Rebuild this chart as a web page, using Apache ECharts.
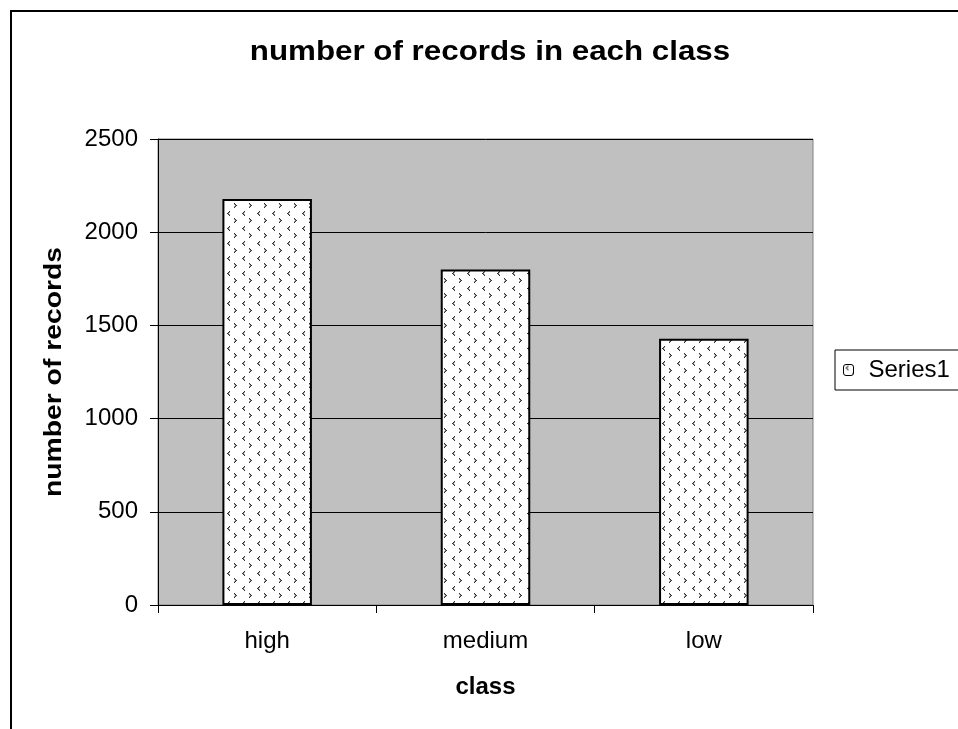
<!DOCTYPE html>
<html><head><meta charset="utf-8">
<script src="https://cdn.jsdelivr.net/npm/echarts@6/dist/echarts.min.js"></script>
<style>html,body{margin:0;padding:0;background:#fff}#c{width:958px;height:729px}</style>
</head><body><div id="c"></div>
<script>
var categories = ['high', 'medium', 'low'];
var seriesValues = [2178, 1800, 1428];
var yTicks = [0, 500, 1000, 1500, 2000, 2500];

function makePattern() {
  var c = document.createElement('canvas');
  c.width = 15; c.height = 15;
  var g = c.getContext('2d');
  g.fillStyle = '#fff'; g.fillRect(0, 0, 15, 15);
  function px(x, y, col) { g.fillStyle = col; g.fillRect(x, y, 1, 1); }
  // "<" chevron
  px(4, 1, '#333'); px(3, 2, '#333'); px(2, 3, '#333'); px(3, 4, '#333'); px(4, 5, '#333');
  px(4, 2, '#999'); px(3, 3, '#777'); px(4, 4, '#999');
  // ">" chevron
  px(9, 8, '#333'); px(10, 9, '#333'); px(11, 10, '#333'); px(10, 11, '#333'); px(9, 12, '#333');
  px(9, 9, '#999'); px(10, 10, '#777'); px(9, 11, '#999');
  return c;
}
var pat = makePattern();

var chart = echarts.init(document.getElementById('c'), null, {renderer: 'canvas'});
var font = 'Liberation Sans, Arial, sans-serif';
chart.setOption({
  animation: false,
  legend: {
    left: 835, top: 350, orient: 'vertical',
    borderColor: '#000', borderWidth: 1, padding: [8, 40, 8, 8],
    itemWidth: 10, itemHeight: 11, itemGap: 0,
    textStyle: {fontFamily: font, fontSize: 24, color: '#000', padding: [0, 0, 0, 10]},
    data: [{name: 'Series1', itemStyle: {color: {image: pat, repeat: 'repeat'}, borderColor: '#000', borderWidth: 1}}]
  },
  grid: {
    left: 158, right: 145, top: 139, bottom: 124,
    show: true, backgroundColor: '#c0c0c0', borderColor: '#808080', borderWidth: 1
  },
  xAxis: {
    type: 'category', data: categories,
    name: 'class', nameLocation: 'middle', nameGap: 70,
    nameTextStyle: {fontFamily: font, fontSize: 24, fontWeight: 'bold', color: '#000'},
    axisLine: {lineStyle: {color: '#000', width: 1}},
    axisTick: {show: true, alignWithLabel: false, length: 8, lineStyle: {color: '#000'}},
    axisLabel: {fontFamily: font, fontSize: 24, color: '#000', margin: 24}
  },
  yAxis: {
    type: 'value', min: yTicks[0], max: yTicks[yTicks.length - 1], interval: 500,
    axisLine: {show: true, lineStyle: {color: '#000', width: 1}},
    axisTick: {show: true, length: 8, lineStyle: {color: '#000'}},
    axisLabel: {fontFamily: font, fontSize: 24, color: '#000', margin: 20, formatter: function (v) { return String(v); }},
    splitLine: {show: true, lineStyle: {color: '#000', width: 1}}
  },
  series: [{
    name: 'Series1', type: 'bar', data: seriesValues,
    barCategoryGap: '59%',
    itemStyle: {color: {image: pat, repeat: 'repeat'}, borderColor: '#000', borderWidth: 2}
  }],
  graphic: [{
    type: 'rect', shape: {x: 11, y: 11, width: 1000, height: 1000},
    style: {fill: 'none', stroke: '#000', lineWidth: 2}, silent: true, z: 100
  }, {
    type: 'text', x: 490, y: 53, scaleX: 1.16, silent: true,
    style: {text: 'number of records in each class', fontFamily: font, fontSize: 27, fontWeight: 'bold', fill: '#000', align: 'center', verticalAlign: 'middle'}
  }, {
    type: 'text', x: 54, y: 372, rotation: Math.PI / 2, scaleX: 1.18, silent: true,
    style: {text: 'number of records', fontFamily: font, fontSize: 24, fontWeight: 'bold', fill: '#000', align: 'center', verticalAlign: 'middle'}
  }]
});
</script></body></html>
